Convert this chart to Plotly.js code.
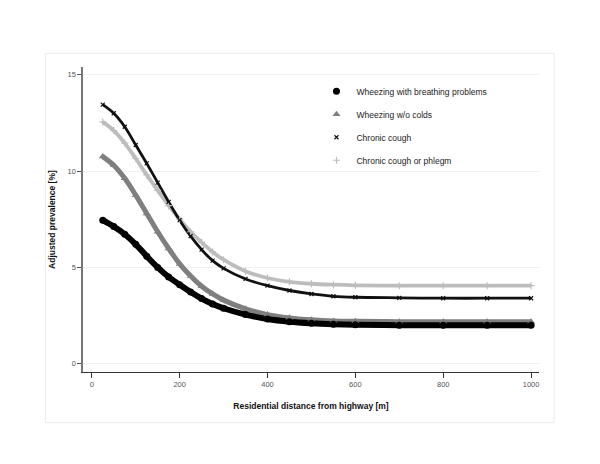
<!DOCTYPE html>
<html><head><meta charset="utf-8">
<script src="https://cdn.plot.ly/plotly-3.0.1.min.js"></script>
<style>html,body{margin:0;padding:0;background:#fff}#chart{width:600px;height:464px}</style>
</head><body><div id="chart"></div>
<script>
// Residential distance from highway [m]
const distance = [25, 50, 75, 100, 125, 150, 175, 200, 225, 250, 275, 300, 350, 400, 450, 500, 550, 600, 700, 800, 900, 1000];
// Adjusted prevalence [%] per outcome
const wheezeBreathing = [7.45, 7.12, 6.72, 6.2, 5.58, 5.0, 4.5, 4.1, 3.72, 3.38, 3.1, 2.88, 2.55, 2.32, 2.18, 2.1, 2.05, 2.02, 2.0, 2.0, 2.0, 2.0];
const wheezeNoColds = [10.75, 10.3, 9.62, 8.75, 7.8, 6.85, 5.98, 5.18, 4.55, 4.02, 3.62, 3.3, 2.85, 2.55, 2.38, 2.28, 2.22, 2.2, 2.18, 2.18, 2.18, 2.18];
const chronicCough = [13.45, 13.0, 12.3, 11.35, 10.4, 9.4, 8.4, 7.45, 6.62, 5.92, 5.35, 4.95, 4.4, 4.05, 3.8, 3.62, 3.5, 3.45, 3.42, 3.4, 3.4, 3.4];
const coughPhlegm = [12.55, 12.1, 11.45, 10.65, 9.8, 9.0, 8.2, 7.5, 6.85, 6.3, 5.8, 5.4, 4.8, 4.45, 4.25, 4.15, 4.1, 4.07, 4.05, 4.05, 4.05, 4.05];
const seriesNames = ["Wheezing with breathing problems", "Wheezing w/o colds", "Chronic cough", "Chronic cough or phlegm"];
const xTicks = [0, 200, 400, 600, 800, 1000];
const yTicks = [0, 5, 10, 15];

const font = "Liberation Sans, Arial, Helvetica, sans-serif";
const specs = [
  {y: wheezeBreathing, color: "#000000", lw: 6, sym: "circle", size: 7, mline: 0},
  {y: wheezeNoColds, color: "#7f7f7f", lw: 5, sym: "triangle-up", size: 7, mline: 0},
  {y: chronicCough, color: "#111111", lw: 2.8, sym: "x-thin-open", size: 4, mline: 1.2},
  {y: coughPhlegm, color: "#bdbdbd", lw: 3.8, sym: "cross-thin-open", size: 5, mline: 1.2}
];
const traces = [];
const order = [3, 2, 1, 0];
order.forEach(i => {
  const s = specs[i];
  traces.push({x: distance, y: s.y, mode: "lines", line: {color: s.color, width: s.lw, shape: "spline"},
    showlegend: false, hoverinfo: "skip"});
});
order.forEach(i => {
  const s = specs[i];
  traces.push({x: distance, y: s.y, mode: "markers", name: seriesNames[i], legendgroup: "g" + i,
    legendrank: i + 1,
    marker: {symbol: s.sym, size: s.size, color: s.color, line: {color: s.color, width: s.mline}}});
});

const layout = {
  width: 600, height: 464,
  margin: {l: 83, r: 61, t: 67, b: 92},
  paper_bgcolor: "#ffffff", plot_bgcolor: "#ffffff",
  font: {family: font, size: 8, color: "#444"},
  showlegend: true,
  legend: {x: 0.512, y: 0.968, xanchor: "left", yanchor: "top", bgcolor: "rgba(0,0,0,0)",
    font: {family: font, size: 8.5, color: "#222"}, tracegroupgap: 4, traceorder: "grouped"},
  xaxis: {range: [-20, 1018], tickvals: xTicks, ticktext: xTicks.map(String), showgrid: false, zeroline: false,
    showline: true, linecolor: "#333", linewidth: 1.2, ticks: "outside", ticklen: 5, tickcolor: "#333", tickwidth: 1,
    tickfont: {family: font, size: 7.5, color: "#555"},
    title: {text: "Residential distance from highway [m]", font: {family: font, size: 8.5, color: "#111", weight: "bold"}, standoff: 14}},
  yaxis: {range: [-0.43, 15.4], tickvals: yTicks, ticktext: yTicks.map(String), showgrid: true, gridcolor: "#f0f0f0", gridwidth: 1,
    zeroline: false, showline: true, linecolor: "#777", linewidth: 1.6, ticks: "outside", ticklen: 4, tickcolor: "#555", tickwidth: 1,
    tickfont: {family: font, size: 7.5, color: "#555"},
    title: {text: "Adjusted prevalence [%]", font: {family: font, size: 8.5, color: "#111", weight: "bold"}, standoff: 10}},
  shapes: [{type: "rect", xref: "paper", yref: "paper", x0: -0.0826, x1: 1.033, y0: -0.166, y1: 1.0448,
    line: {color: "#ebebeb", width: 1}, fillcolor: "rgba(0,0,0,0)", layer: "below"}]
};
Plotly.newPlot("chart", traces, layout, {displayModeBar: false, staticPlot: true});
</script></body></html>
